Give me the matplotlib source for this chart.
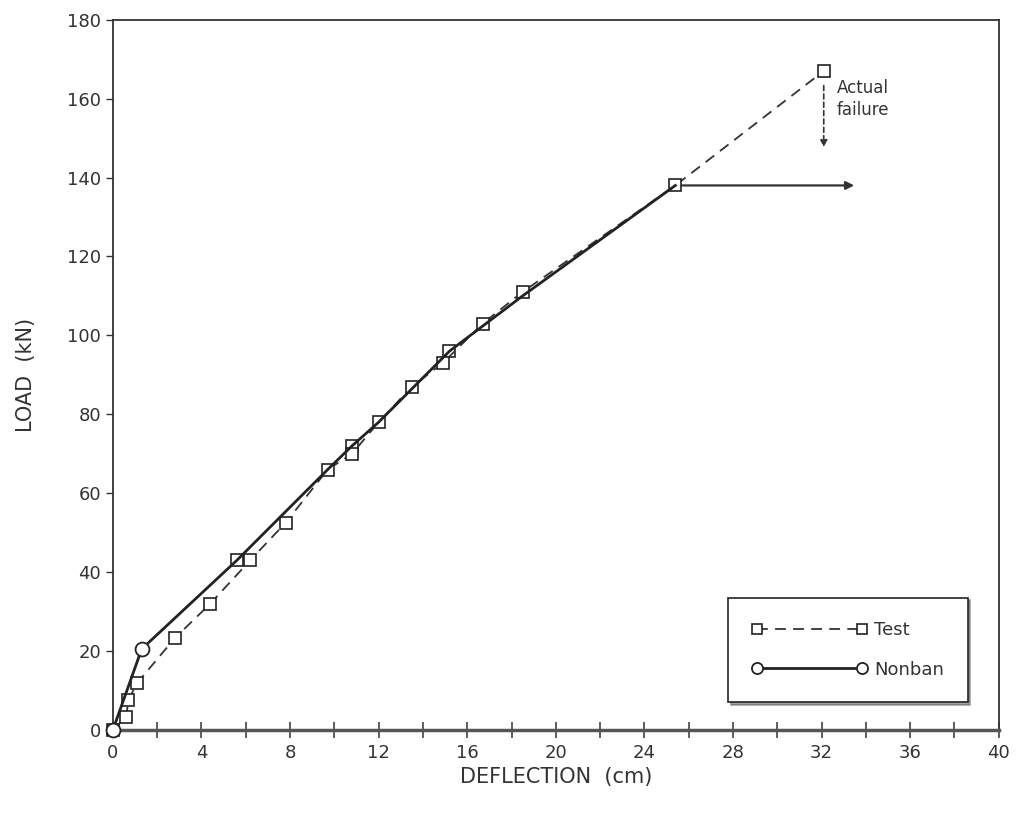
import matplotlib
matplotlib.use("Agg")
import matplotlib.pyplot as plt
from matplotlib.ticker import MultipleLocator

# Test results (squares, dashed)
test_x = [0, 0.6, 0.7, 1.1, 2.8, 4.4, 6.2, 7.8, 9.7, 10.8, 12.0, 13.5, 14.9, 16.7, 18.5, 25.4, 32.1]
test_y = [0, 3.3, 7.6, 11.9, 23.3, 32, 43, 52.5, 66, 70, 78, 87, 93, 103, 111, 138, 167]

# Nonban analysis (solid)
nonban_x = [0, 1.3, 5.6, 9.7, 10.8, 12.0, 15.2, 18.5, 25.4]
nonban_y = [0, 20.5, 43, 66, 72, 78, 96, 110, 138]
# vertices of the nonban line that show as small squares in the figure
nb_sq_x = [5.6, 10.8, 15.2]
nb_sq_y = [43, 72, 96]

fig = plt.figure(figsize=(10.17, 8.22), dpi=100)
ax = fig.add_axes([0.111, 0.112, 0.871, 0.864])

ax.plot(nonban_x, nonban_y, color="#222222", lw=2.0, marker="o", markevery=[0, 1],
        ms=10, mfc="white", mec="#222222", mew=1.3, label="Nonban", zorder=5, clip_on=False)
ax.plot(nb_sq_x, nb_sq_y, ls="none", marker="s", ms=9, mfc="white", mec="#222222", mew=1.2, zorder=4)
ax.plot(test_x, test_y, color="#333333", lw=1.3, ls=(0, (6, 4)), marker="s", ms=9,
        mfc="white", mec="#222222", mew=1.2, label="Test", zorder=4, clip_on=False)

# nonban limit load continues horizontally
ax.annotate("", xy=(33.6, 138), xytext=(25.4, 138),
            arrowprops=dict(arrowstyle="-|>", color="#333333", lw=1.6, mutation_scale=12))
# actual failure arrow
ax.annotate("", xy=(32.1, 147), xytext=(32.1, 164),
            arrowprops=dict(arrowstyle="-|>", color="#333333", lw=1.2, ls=(0, (3, 2)), mutation_scale=10))
ax.text(32.7, 160, "Actual\nfailure", fontsize=12, color="#333333", va="center", ha="left", linespacing=1.3)

ax.set_xlim(0, 40)
ax.set_ylim(0, 180)
ax.xaxis.set_major_locator(MultipleLocator(4))
ax.xaxis.set_minor_locator(MultipleLocator(2))
ax.yaxis.set_major_locator(MultipleLocator(20))
ax.tick_params(axis="x", which="both", direction="inout", length=12, width=1.1, colors="#333333",
               labelsize=13, pad=4, labelcolor="#333333")
ax.tick_params(axis="y", direction="out", length=5, width=1, colors="#333333",
               labelsize=13, labelcolor="#333333")

for s in ["left", "top", "right"]:
    ax.spines[s].set_color("#333333")
    ax.spines[s].set_linewidth(1.3)
ax.spines["bottom"].set_color("#555555")
ax.spines["bottom"].set_linewidth(2.5)

ax.set_xlabel("DEFLECTION  (cm)", fontsize=15, color="#333333", labelpad=4)
ax.set_ylabel("LOAD  (kN)", fontsize=15, color="#333333", labelpad=22)

leg = ax.legend(handles=[ax.lines[2], ax.lines[0]], labels=["Test", "Nonban"],
                loc="lower right", bbox_to_anchor=(0.965, 0.039), borderaxespad=0, fontsize=13,
                frameon=True, fancybox=False, shadow=True, numpoints=2, handlelength=6.4,
                labelspacing=1.2, borderpad=1.3, handletextpad=0.4, markerscale=0.8)
leg.get_frame().set_edgecolor("#222222")
leg.get_frame().set_linewidth(1.2)
for t in leg.get_texts():
    t.set_color("#333333")

fig.savefig("out.png", dpi=100)
